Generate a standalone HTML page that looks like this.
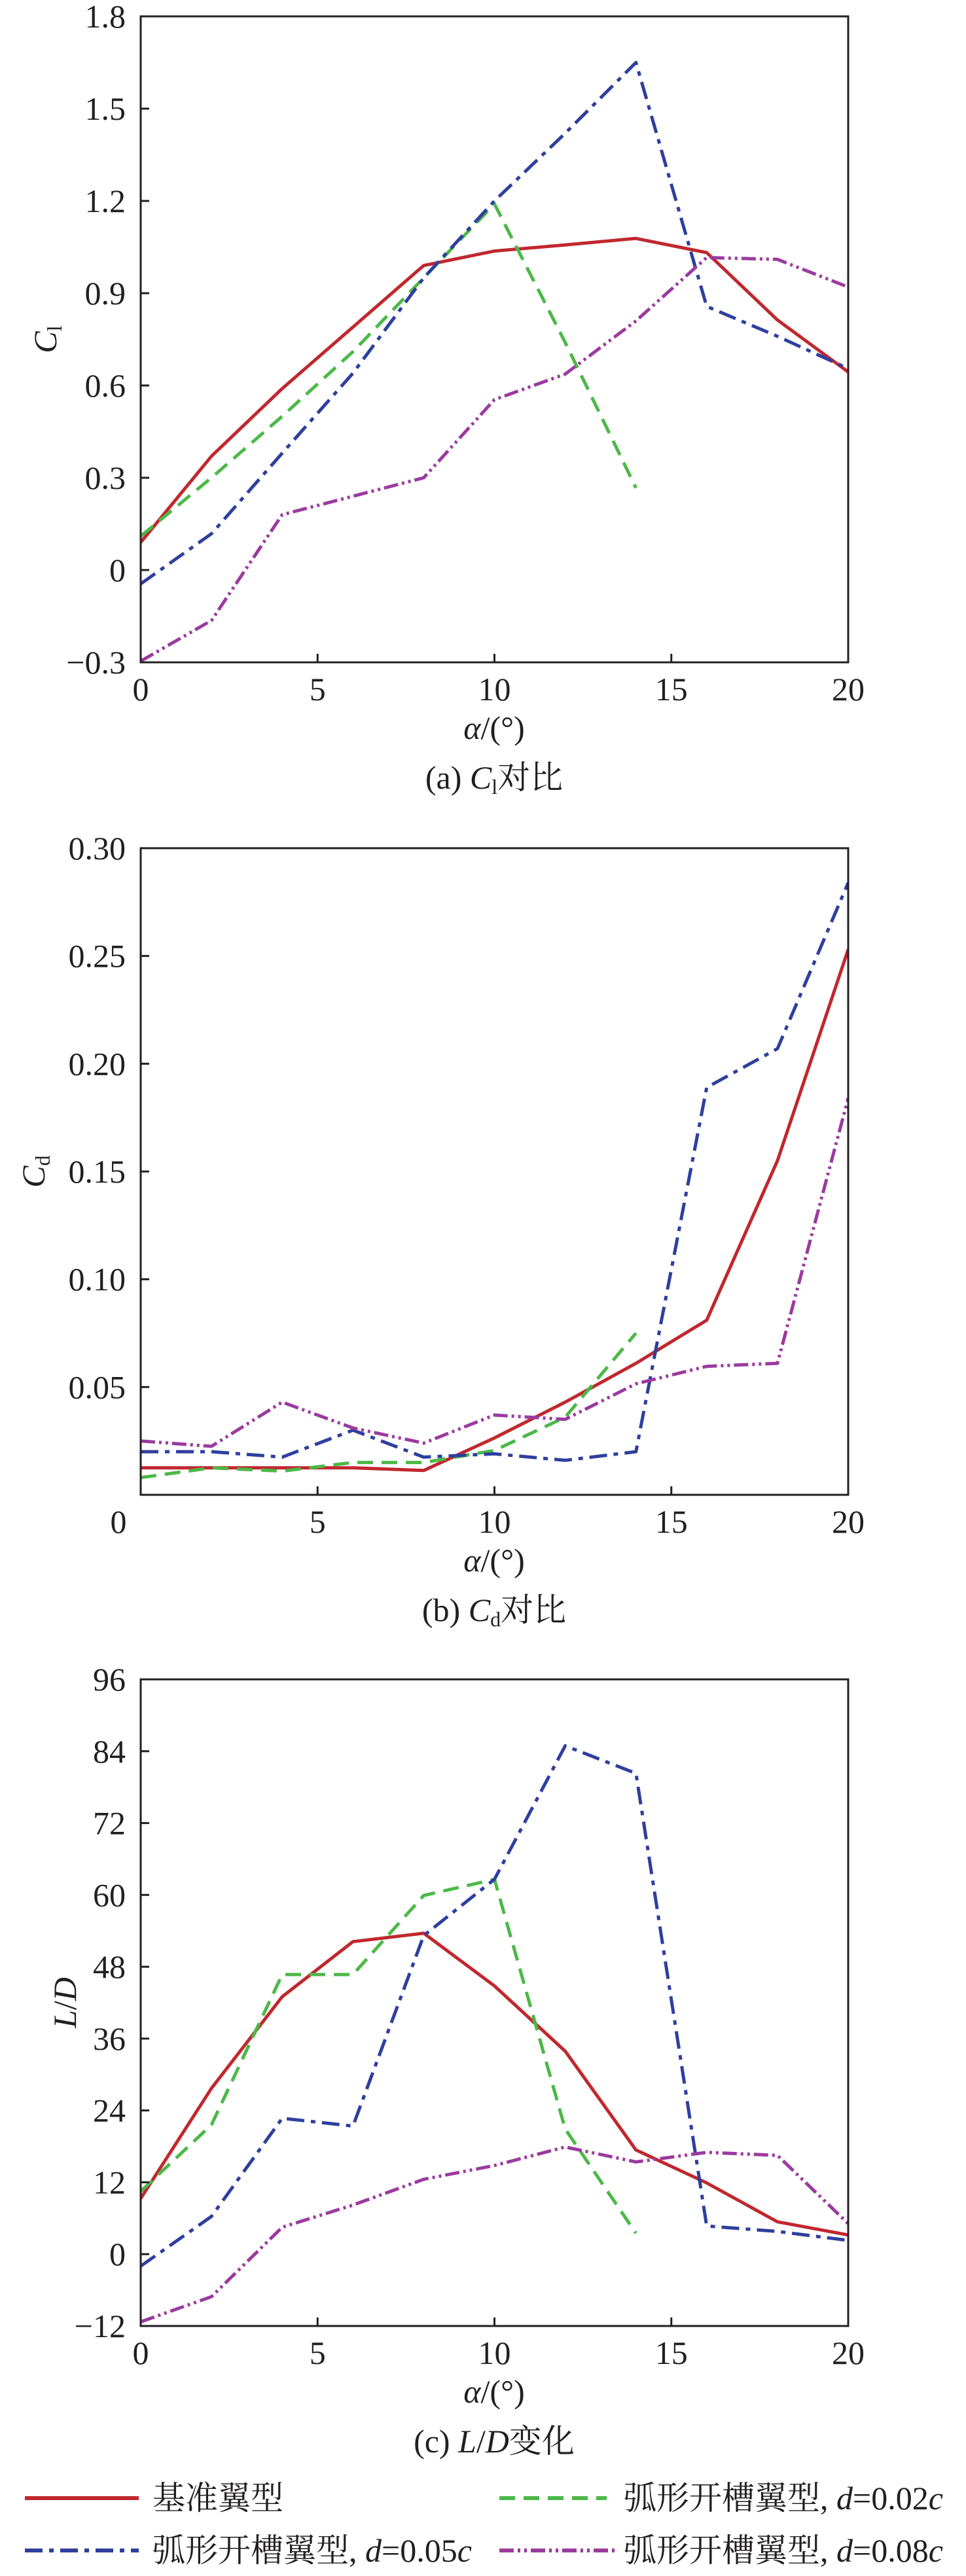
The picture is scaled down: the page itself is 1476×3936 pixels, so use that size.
<!DOCTYPE html>
<html><head><meta charset="utf-8">
<style>
html,body{margin:0;padding:0;background:#fff;}
svg{display:block;}
text{font-family:"Liberation Serif","Noto Serif CJK SC",serif;fill:#231f20;}
</style></head>
<body>
<svg id="fig" xmlns="http://www.w3.org/2000/svg" width="1476" height="3936" viewBox="0 0 1476 3936">
<g id="legend">
  <g>
    <line x1="38" y1="3817" x2="212" y2="3817" stroke="#c0282e" stroke-width="6"/>
    <text x="233" y="3834" font-size="50">基准翼型</text>
  </g>
  <g>
    <line x1="763" y1="3817" x2="927" y2="3817" stroke="#4cb848" stroke-width="6" stroke-dasharray="24 13"/>
    <text x="953" y="3834" font-size="50">弧形开槽翼型, <tspan font-style="italic">d</tspan>=0.02<tspan font-style="italic">c</tspan></text>
  </g>
  <g>
    <line x1="38" y1="3897" x2="212" y2="3897" stroke="#2e3f9e" stroke-width="6" stroke-dasharray="27 10 7 10"/>
    <text x="233" y="3914" font-size="50">弧形开槽翼型, <tspan font-style="italic">d</tspan>=0.05<tspan font-style="italic">c</tspan></text>
  </g>
  <g>
    <line x1="763" y1="3897" x2="940" y2="3897" stroke="#9b3a9f" stroke-width="6" stroke-dasharray="22 6 4 6 4 6"/>
    <text x="953" y="3914" font-size="50">弧形开槽翼型, <tspan font-style="italic">d</tspan>=0.08<tspan font-style="italic">c</tspan></text>
  </g>
</g>
</svg>
<script>
const alpha = [0,2,4,6,8,10,12,14,16,18,20];
const xTicks = [0,5,10,15,20];

const clBase = [0.09,0.37,0.59,0.79,0.99,1.037,1.057,1.078,1.032,0.813,0.644];
const clD002 = [0.11,0.30,0.50,0.71,0.95,1.19,0.74,0.267];
const clD005 = [-0.045,0.118,0.38,0.64,0.95,1.20,1.42,1.65,0.857,0.76,0.655];
const clD008 = [-0.296,-0.164,0.18,0.24,0.30,0.554,0.637,0.81,1.016,1.01,0.92];
const clTicks = [-0.3,0,0.3,0.6,0.9,1.2,1.5,1.8];
const clTickLabels = ["\u22120.3","0","0.3","0.6","0.9","1.2","1.5","1.8"];

const cdBase = [0.0125,0.0125,0.0125,0.0125,0.0113,0.0264,0.043,0.061,0.081,0.155,0.253];
const cdD002 = [0.008,0.0125,0.011,0.015,0.015,0.0206,0.036,0.075];
const cdD005 = [0.020,0.020,0.0175,0.030,0.0175,0.019,0.016,0.020,0.189,0.207,0.284];
const cdD008 = [0.025,0.0225,0.043,0.031,0.024,0.037,0.035,0.0515,0.0596,0.061,0.184];
const cdTicks = [0.05,0.10,0.15,0.20,0.25,0.30];
const cdTickLabels = ["0.05","0.10","0.15","0.20","0.25","0.30"];

const ldBase = [9.3,27.7,43,52.2,53.6,44.8,33.9,17.4,11.9,5.4,3.2];
const ldD002 = [10.5,21.6,46.7,46.7,59.9,62.6,20.9,3.5];
const ldD005 = [-2,6.3,22.7,21.4,53.2,62.6,84.9,80.3,4.7,3.8,2.3];
const ldD008 = [-11.3,-7.1,4.5,8.2,12.5,14.8,17.9,15.4,17,16.5,5.1];
const ldTicks = [-12,0,12,24,36,48,60,72,84,96];
const ldTickLabels = ["\u221212","0","12","24","36","48","60","72","84","96"];

const NS = "http://www.w3.org/2000/svg";
const svg = document.getElementById('fig');
function mk(tag, attrs, parent){
  const e = document.createElementNS(NS, tag);
  for (const k in attrs) e.setAttribute(k, attrs[k]);
  (parent||svg).appendChild(e);
  return e;
}
const styles = {
  base:{stroke:"#c0282e", dash:"none"},
  d002:{stroke:"#4cb848", dash:"24 13"},
  d005:{stroke:"#2e3f9e", dash:"27 10 7 10"},
  d008:{stroke:"#9b3a9f", dash:"22 6 4 6 4 6"}
};

function chart(cfg){
  const g = mk('g', {});
  
  
  const L=215, R=1296, T=cfg.top, B=cfg.bottom;
  const xs = v => L + (v-0)/(20-0)*(R-L);
  const ys = v => B - (v-cfg.ymin)/(cfg.ymax-cfg.ymin)*(B-T);
  // series
  const clip = mk('clipPath', {id:'clip-'+cfg.name}, g);
  mk('rect', {x:L, y:T, width:R-L, height:B-T}, clip);
  cfg.series.forEach(s => {
    const pts = s.vals.map((v,i)=> xs(alpha[i]).toFixed(1)+','+ys(v).toFixed(1)).join(' ');
    const st = styles[s.key];
    const pl = mk('polyline', {points:pts, fill:'none', stroke:st.stroke, 'stroke-width':5,
      'stroke-dasharray':st.dash, 'stroke-linejoin':'round', 'clip-path':'url(#clip-'+cfg.name+')'}, g);
    
    
  });
  // frame
  const fr = mk('rect', {x:L, y:T, width:R-L, height:B-T, fill:'none', stroke:'#231f20', 'stroke-width':3}, g);
  
  
  // y ticks
  cfg.yticks.forEach((v,i) => {
    const y = ys(v);
    if (y > T+2 && y < B-2) mk('line', {x1:L, y1:y, x2:L+13, y2:y, stroke:'#231f20', 'stroke-width':3}, g);
    const t = mk('text', {x:192, y:y+17, 'font-size':50, 'text-anchor':'end'}, g);
    t.textContent = cfg.ylabels[i];
    
    
  });
  // x ticks
  xTicks.forEach(v => {
    const x = xs(v);
    if (x > L+2 && x < R-2) mk('line', {x1:x, y1:B, x2:x, y2:B-13, stroke:'#231f20', 'stroke-width':3}, g);
    const t = mk('text', {x:(v===0 && cfg.zeroLeft)? 181 : x, y:B+58, 'font-size':50, 'text-anchor':'middle'}, g);
    t.textContent = String(v);
    
    
  });
  // x axis title
  const xt = mk('text', {x:755, y:B+117, 'font-size':50, 'text-anchor':'middle'}, g);
  xt.innerHTML = '<tspan font-style="italic">α</tspan>/(°)';
  
  
  // caption
  const cp = mk('text', {x:755, y:B+193, 'font-size':50, 'text-anchor':'middle'}, g);
  cp.innerHTML = cfg.caption;
  
  
  // y axis title
  const yt = mk('text', {x:0, y:0, 'font-size':50, 'text-anchor':'middle',
    transform:'translate('+(cfg.ytx)+','+((T+B)/2)+') rotate(-90)'}, g);
  yt.innerHTML = cfg.ytitle;
  
  
}

chart({name:'chart-cl', top:25, bottom:1012, ymin:-0.3, ymax:1.8, yticks:clTicks, ylabels:clTickLabels,
  ytx:86, ytitle:'<tspan font-style="italic">C</tspan><tspan font-size="32" dy="8">l</tspan>',
  caption:'(a) <tspan font-style="italic">C</tspan><tspan font-size="32" dy="8">l</tspan><tspan dy="-8">对比</tspan>',
  series:[{key:'base',vals:clBase},{key:'d002',vals:clD002},{key:'d005',vals:clD005},{key:'d008',vals:clD008}]});
chart({name:'chart-cd', top:1296, bottom:2284, ymin:0, ymax:0.30, yticks:cdTicks, ylabels:cdTickLabels, zeroLeft:true,
  ytx:68, ytitle:'<tspan font-style="italic">C</tspan><tspan font-size="32" dy="8">d</tspan>',
  caption:'(b) <tspan font-style="italic">C</tspan><tspan font-size="32" dy="8">d</tspan><tspan dy="-8">对比</tspan>',
  series:[{key:'base',vals:cdBase},{key:'d002',vals:cdD002},{key:'d005',vals:cdD005},{key:'d008',vals:cdD008}]});
chart({name:'chart-ld', top:2566, bottom:3554, ymin:-12, ymax:96, yticks:ldTicks, ylabels:ldTickLabels,
  ytx:116, ytitle:'<tspan font-style="italic">L</tspan>/<tspan font-style="italic">D</tspan>',
  caption:'(c) <tspan font-style="italic">L</tspan>/<tspan font-style="italic">D</tspan>变化',
  series:[{key:'base',vals:ldBase},{key:'d002',vals:ldD002},{key:'d005',vals:ldD005},{key:'d008',vals:ldD008}]});
</script>
</body></html>
